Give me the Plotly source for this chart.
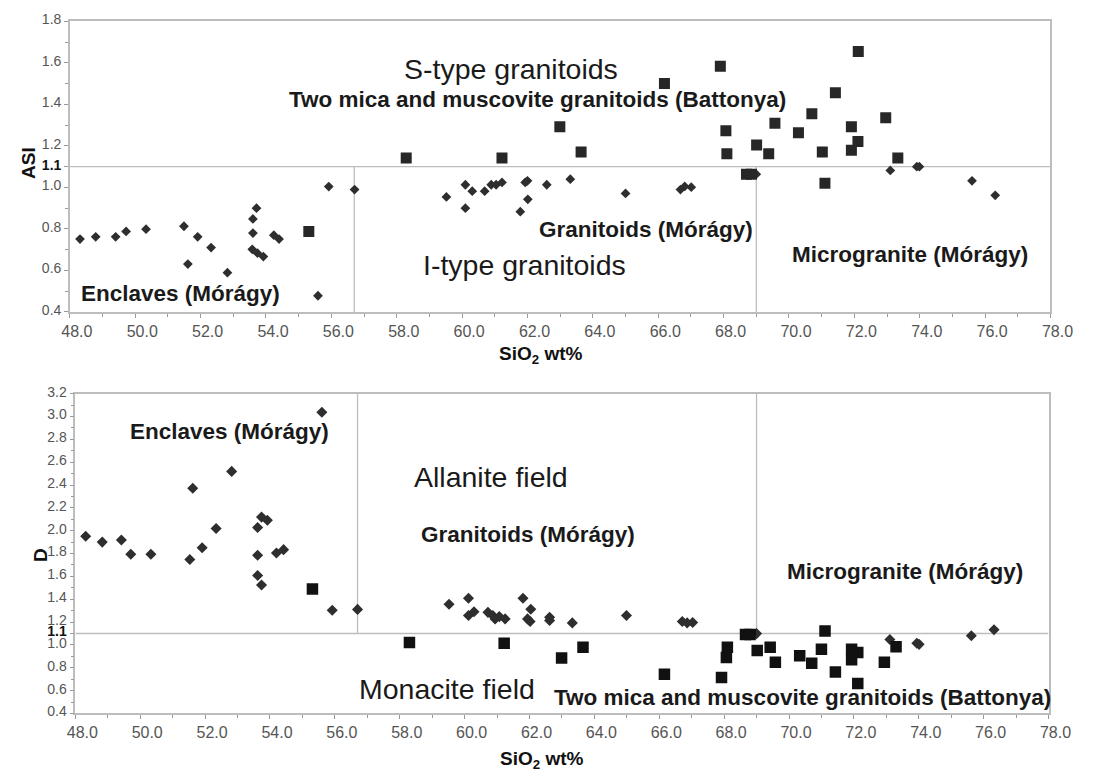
import plotly.graph_objects as go

# ---------------- data ----------------
# Upper panel: ASI vs SiO2
asi_morag_sio2 = [48.31, 48.79, 49.40, 49.72, 50.33, 51.49, 51.61, 51.91, 52.32, 52.82,
                  53.58, 53.60, 53.60, 53.71, 53.74, 53.92, 54.24, 54.40, 55.59, 55.92,
                  56.71, 59.52, 60.10, 60.10, 60.31, 60.69, 60.89, 61.04, 61.22, 61.78,
                  61.93, 62.00, 62.01, 62.59, 63.31, 65.00, 66.68, 66.81, 67.01, 69.00,
                  73.10, 73.91, 73.99, 75.60, 76.31]
asi_morag = [0.751, 0.762, 0.762, 0.788, 0.799, 0.813, 0.631, 0.762, 0.710, 0.589,
             0.702, 0.848, 0.780, 0.900, 0.683, 0.667, 0.770, 0.751, 0.478, 1.004,
             0.990, 0.954, 0.900, 1.013, 0.982, 0.982, 1.013, 1.013, 1.024, 0.883,
             1.024, 1.032, 0.943, 1.013, 1.040, 0.971, 0.990, 1.005, 1.001, 1.064,
             1.082, 1.100, 1.100, 1.032, 0.962]

asi_batt_sio2 = [55.31, 58.29, 61.22, 62.99, 63.64, 66.19, 67.90, 68.07, 68.10, 68.70,
                 68.85, 69.01, 69.38, 69.57, 70.29, 70.70, 71.02, 71.10, 71.42, 71.91,
                 71.91, 72.11, 72.12, 72.96, 73.33]
asi_batt = [0.788, 1.142, 1.142, 1.293, 1.171, 1.501, 1.584, 1.273, 1.163, 1.064,
            1.064, 1.205, 1.163, 1.309, 1.264, 1.355, 1.171, 1.020, 1.457, 1.293,
            1.179, 1.221, 1.655, 1.336, 1.142]

# Lower panel: D vs SiO2
d_morag_sio2 = [48.32, 48.83, 49.42, 49.71, 50.33, 51.53, 51.62, 51.91, 52.34, 52.82,
                53.62, 53.62, 53.62, 53.74, 53.74, 53.92, 54.20, 54.42, 55.60, 55.92,
                56.70, 59.52, 60.12, 60.12, 60.29, 60.72, 60.87, 60.94, 61.07, 61.25,
                61.80, 62.04, 61.94, 62.02, 62.62, 62.62, 63.32, 64.99, 66.71, 66.86,
                67.03, 69.00, 73.11, 73.94, 74.01, 75.62, 76.32]
d_morag = [1.951, 1.900, 1.919, 1.793, 1.793, 1.748, 2.371, 1.851, 2.019, 2.519,
           2.028, 1.785, 1.608, 1.525, 2.119, 2.091, 1.805, 1.834, 3.036, 1.303,
           1.311, 1.356, 1.408, 1.257, 1.291, 1.285, 1.257, 1.228, 1.248, 1.228,
           1.408, 1.313, 1.228, 1.205, 1.242, 1.214, 1.193, 1.257, 1.205, 1.193,
           1.196, 1.099, 1.048, 1.014, 1.005, 1.080, 1.133]

d_batt_sio2 = [55.31, 58.30, 61.22, 62.99, 63.65, 66.16, 67.92, 68.10, 68.07, 68.66,
               68.80, 69.02, 69.42, 69.58, 70.33, 70.70, 71.00, 71.11, 71.43, 71.93,
               71.93, 72.12, 72.12, 72.94, 73.30]
d_batt = [1.490, 1.022, 1.014, 0.885, 0.979, 0.743, 0.714, 0.979, 0.891, 1.091,
          1.091, 0.951, 0.979, 0.848, 0.905, 0.840, 0.963, 1.121, 0.762, 0.963,
          0.871, 0.934, 0.662, 0.848, 0.985]

# field boundaries
boundary_y = 1.1
boundary_x = [56.7, 69.0]

x_tickvals = [48, 50, 52, 54, 56, 58, 60, 62, 64, 66, 68, 70, 72, 74, 76, 78]
x_ticktext = ["48.0", "50.0", "52.0", "54.0", "56.0", "58.0", "60.0", "62.0",
              "64.0", "66.0", "68.0", "70.0", "72.0", "74.0", "76.0", "78.0"]
y1_tickvals = [0.4, 0.6, 0.8, 1.0, 1.1, 1.2, 1.4, 1.6, 1.8]
y1_ticktext = ["0.4", "0.6", "0.8", "1.0", "<b><span style='color:#111'>1.1</span></b>",
               "1.2", "1.4", "1.6", "1.8"]
y2_tickvals = [0.4, 0.6, 0.8, 1.0, 1.1, 1.2, 1.4, 1.6, 1.8, 2.0, 2.2, 2.4, 2.6, 2.8, 3.0, 3.2]
y2_ticktext = ["0.4", "0.6", "0.8", "1.0", "<b><span style='color:#111'>1.1</span></b>",
               "1.2", "1.4", "1.6", "1.8", "2.0", "2.2", "2.4", "2.6", "2.8", "3.0", "3.2"]

# ---------------- figure ----------------
W, H = 1099, 775
FONT = "Arial, 'Liberation Sans', sans-serif"
AX = "#bdbdbd"
MK = "#2e2e2e"

fig = go.Figure()

fig.add_trace(go.Scatter(x=asi_morag_sio2, y=asi_morag, mode="markers",
                         marker=dict(symbol="diamond", size=7.5, color=MK),
                         xaxis="x", yaxis="y", showlegend=False))
fig.add_trace(go.Scatter(x=asi_batt_sio2, y=asi_batt, mode="markers",
                         marker=dict(symbol="square", size=11, color="#272727"),
                         xaxis="x", yaxis="y", showlegend=False))
fig.add_trace(go.Scatter(x=d_morag_sio2, y=d_morag, mode="markers",
                         marker=dict(symbol="diamond", size=8.5, color=MK),
                         xaxis="x2", yaxis="y2", showlegend=False))
fig.add_trace(go.Scatter(x=d_batt_sio2, y=d_batt, mode="markers",
                         marker=dict(symbol="square", size=11.5, color="#111111"),
                         xaxis="x2", yaxis="y2", showlegend=False))

# boundary lines
line_style = dict(color=AX, width=1.3)
shapes = [
    dict(type="line", xref="x", yref="y", x0=48, x1=78, y0=boundary_y, y1=boundary_y, line=line_style, layer="below"),
    dict(type="line", xref="x2", yref="y2", x0=48, x1=78, y0=boundary_y, y1=boundary_y, line=line_style, layer="below"),
]
for bx in boundary_x:
    shapes.append(dict(type="line", xref="x", yref="y", x0=bx, x1=bx, y0=0.4, y1=boundary_y,
                       line=line_style, layer="below"))
    shapes.append(dict(type="line", xref="x2", yref="y2", x0=bx, x1=bx, y0=boundary_y, y1=3.2,
                       line=line_style, layer="below"))


def xaxis_cfg(domain, anchor):
    return dict(domain=domain, anchor=anchor, range=[48, 78], tickmode="array",
                tickvals=x_tickvals, ticktext=x_ticktext, ticks="outside", ticklen=4,
                tickcolor="#999", tickwidth=1, ticklabelshift=7,
                minor=dict(tickmode="linear", tick0=48, dtick=1, ticks="outside", ticklen=3,
                           tickcolor="#999", showgrid=False),
                showgrid=False, zeroline=False, showline=True, mirror=True,
                linecolor=AX, linewidth=1.5,
                tickfont=dict(family=FONT, size=16, color="#555"))


def yaxis_cfg(domain, anchor, rng, tv, tt):
    return dict(domain=domain, anchor=anchor, range=rng, tickmode="array",
                tickvals=tv, ticktext=tt, ticks="outside", ticklen=4,
                tickcolor="#999", tickwidth=1, ticklabelshift=-2,
                minor=dict(tickmode="linear", tick0=0.4, dtick=0.1, ticks="outside", ticklen=3,
                           tickcolor="#999", showgrid=False),
                showgrid=False, zeroline=False, showline=True, mirror=True,
                linecolor=AX, linewidth=1.5,
                tickfont=dict(family=FONT, size=14, color="#555"))


fig.update_layout(
    width=W, height=H, margin=dict(l=0, r=0, t=0, b=0),
    paper_bgcolor="white", plot_bgcolor="white",
    font=dict(family=FONT, color="#111"),
    xaxis=xaxis_cfg([62.7 / W, 1072.7 / W], "y"),
    yaxis=yaxis_cfg([1 - 308.3 / H, 1 - 11.7 / H], "x", [0.4, 1.8], y1_tickvals, y1_ticktext),
    xaxis2=xaxis_cfg([68.3 / W, 1070.7 / W], "y2"),
    yaxis2=yaxis_cfg([1 - 718.3 / H, 1 - 391.7 / H], "x2", [0.4, 3.2], y2_tickvals, y2_ticktext),
    shapes=shapes,
    showlegend=False,
)

bold = dict(family=FONT, size=22.5, color="#1a1a1a")
norm = dict(family=FONT, size=28.5, color="#1a1a1a")
ann = [
    # upper panel
    dict(text="S-type granitoids", x=61.51, y=1.572, xref="x", yref="y", font=norm),
    dict(text="<b>Two mica and muscovite granitoids (Battonya)</b>", x=62.32, y=1.422,
         xref="x", yref="y", font=bold),
    dict(text="<b>Granitoids (Mórágy)</b>", x=65.64, y=0.798, xref="x", yref="y", font=bold),
    dict(text="I-type granitoids", x=61.91, y=0.628, xref="x", yref="y", font=norm),
    dict(text="<b>Microgranite (Mórágy)</b>", x=73.70, y=0.675, xref="x", yref="y", font=bold),
    dict(text="<b>Enclaves (Mórágy)</b>", x=51.37, y=0.490, xref="x", yref="y", font=bold),
    # lower panel
    dict(text="<b>Enclaves (Mórágy)</b>", x=52.75, y=2.870, xref="x2", yref="y2", font=bold),
    dict(text="Allanite field", x=60.82, y=2.470, xref="x2", yref="y2", font=norm),
    dict(text="<b>Granitoids (Mórágy)</b>", x=61.94, y=1.971, xref="x2", yref="y2", font=bold),
    dict(text="<b>Microgranite (Mórágy)</b>", x=73.57, y=1.642, xref="x2", yref="y2", font=bold),
    dict(text="Monacite field", x=59.45, y=0.617, xref="x2", yref="y2", font=norm),
    dict(text="<b>Two mica and muscovite granitoids (Battonya)</b>", x=70.42, y=0.542,
         xref="x2", yref="y2", font=bold),
    # axis titles
    dict(text="<b>ASI</b>", x=20.7 / W, y=1 - 156 / H, xref="paper", yref="paper",
         textangle=-90, font=dict(family=FONT, size=19, color="#111")),
    dict(text="<b>D</b>", x=31.7 / W, y=1 - 556.7 / H, xref="paper", yref="paper",
         textangle=-90, font=dict(family=FONT, size=19, color="#111")),
    dict(text="<b>SiO<sub>2</sub> wt%</b>", x=548 / W, y=1 - 352 / H, xref="paper", yref="paper",
         font=dict(family=FONT, size=19, color="#111")),
    dict(text="<b>SiO<sub>2</sub> wt%</b>", x=549 / W, y=1 - 766 / H, xref="paper", yref="paper",
         font=dict(family=FONT, size=19, color="#111")),
]
for a in ann:
    a.update(showarrow=False, xanchor="center", yanchor="middle")
fig.update_layout(annotations=ann)

fig.write_html("out.html", post_script="document.body.style.margin='0';",
               config={"displayModeBar": False})
